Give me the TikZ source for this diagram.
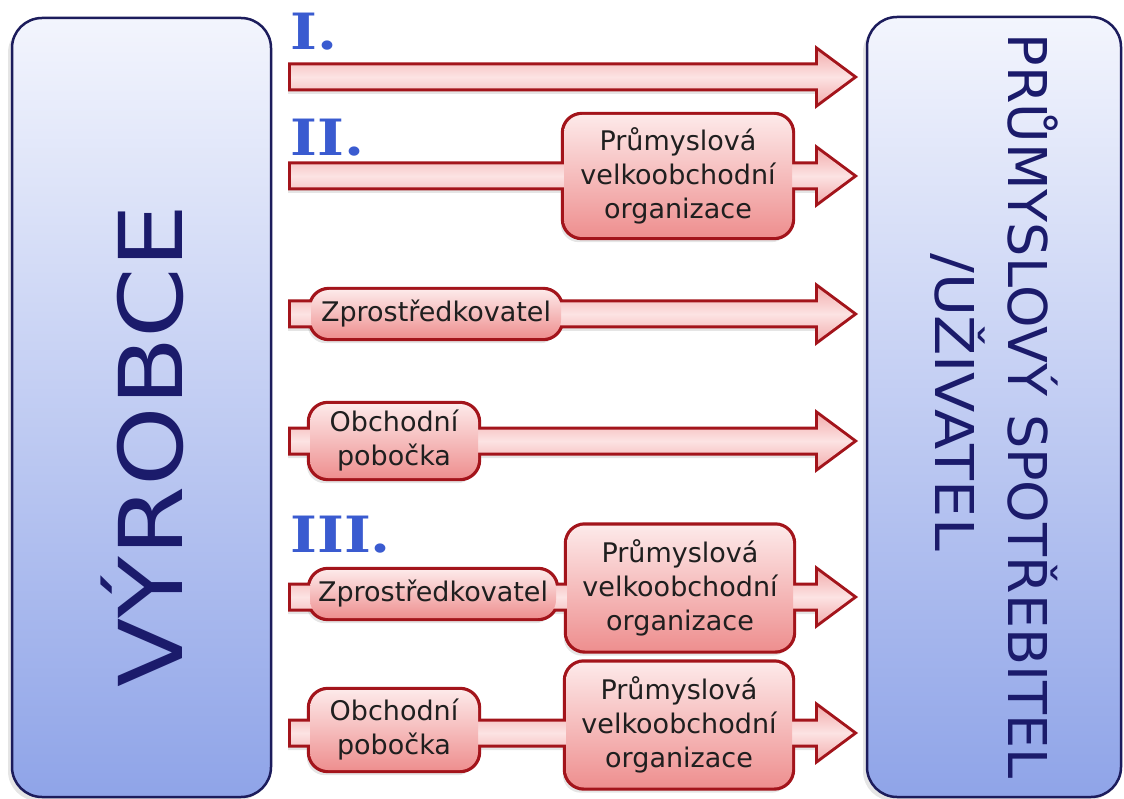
\documentclass[tikz,border=0pt]{standalone}
\usepackage{fontspec}
\usepackage{graphicx}
\setmainfont{DejaVu Sans}
\newfontfamily\numfont{DejaVu Serif}
\pgfdeclarelayer{bg}
\pgfdeclarelayer{shadow}
\pgfdeclarelayer{outl}
\pgfsetlayers{bg,shadow,outl,main}
\definecolor{navy}{HTML}{1B1B6B}
\definecolor{boxedge}{HTML}{1C1C5C}
\definecolor{bluetop}{HTML}{F3F5FD}
\definecolor{bluebot}{HTML}{8FA4E8}
\definecolor{redge}{HTML}{A3141B}
\definecolor{pinktop}{HTML}{FDE9E9}
\definecolor{pinkbot}{HTML}{EE8F8F}
\definecolor{shaftout}{HTML}{F3B0B0}
\definecolor{shaftmid}{HTML}{FCE3E3}
\definecolor{numblue}{HTML}{3A5BD0}
\begin{document}
\begin{tikzpicture}[x=1pt,y=-1pt,
  bigbox/.style={draw=boxedge, line width=2.5pt, rounded corners=30pt, top color=bluetop, bottom color=bluebot},
  bigtext/.style={text=navy, inner sep=0pt},
  lbl/.style={rounded corners=18pt, inner sep=0pt, top color=pinktop, bottom color=pinkbot,
    align=center, text=black!88, font=\fontsize{27}{34}\selectfont},
  lblout/.style={draw=redge, line width=6pt, rounded corners=18pt},
  shade1/.style={fill=black, opacity=0.10},
  shaftfill/.style={top color=shaftout, bottom color=shaftout, middle color=shaftmid},
  num/.style={text=numblue, font=\numfont\bfseries\fontsize{50}{50}\selectfont, inner sep=0pt, anchor=base west}
]
\begin{pgfonlayer}{bg}
\fill[white] (0,0) rectangle (1124,799);
\end{pgfonlayer}
\useasboundingbox (0,0) rectangle (1124,799);

% big boxes
\begin{pgfonlayer}{shadow}
\fill[shade1, rounded corners=30pt] (8,23) rectangle (267,801);
\fill[shade1, rounded corners=30pt] (863,22) rectangle (1117,801);
\end{pgfonlayer}
\path[bigbox] (12,18) rectangle (271,797);
\path[bigbox] (867,17) rectangle (1121,797);
\node[bigtext, rotate=90, anchor=base, font=\fontsize{88}{88}\selectfont] (vyr) at (182,446) {\scalebox{1.15}[1]{VÝROBCE}};
\node[bigtext, rotate=-90, anchor=base, font=\fontsize{53.5}{60}\selectfont] (spot) at (1008,406) {\scalebox{1.01}[1]{PRŮMYSLOVÝ SPOTŘEBITEL}};
\node[bigtext, rotate=-90, anchor=base, font=\fontsize{53.5}{60}\selectfont] (uziv) at (935,402) {\scalebox{1.1}[1]{/UŽIVATEL}};

% roman numerals
\node[num] (n1) at (290,50) {\scalebox{1.15}[1]{I.}};
\node[num] (n2) at (290,156) {\scalebox{1.15}[1]{II.}};
\node[num] (n3) at (290,552) {\scalebox{1.15}[1]{III.}};

% arrow shafts
\foreach \i/\y in {1/77,2/176,3/314,4/441,5/597,6/733} {
  \coordinate (s\i) at (291,\y);
  \coordinate (t\i) at (853,\y);
  \begin{pgfonlayer}{shadow}
    \fill[shade1] (288,\y-7) -- (815,\y-7) -- (815,\y-21) -- (850,\y+5) -- (815,\y+31) -- (815,\y+17) -- (288,\y+17) -- cycle;
  \end{pgfonlayer}
  \begin{pgfonlayer}{outl}
    \draw[redge, line width=6pt, line join=miter]
      (s\i) ++(0,-11.5) -- (818,\y-11.5) -- (818,\y-26) -- (t\i) -- (818,\y+26) -- (818,\y+11.5) -- (291,\y+11.5) -- cycle;
  \end{pgfonlayer}
  \path[shaftfill]
      (s\i) ++(0,-11.5) -- (818,\y-11.5) -- (818,\y-26) -- (t\i) -- (818,\y+26) -- (818,\y+11.5) -- (291,\y+11.5) -- cycle;
}

% label boxes
\node[lbl, minimum width=228pt, minimum height=122pt] (pv2) at (678,176) {Průmyslová\\velkoobchodní\\organizace};
\node[lbl, minimum width=250pt, minimum height=48pt] (z3) at (436,314) {Zprostředkovatel};
\node[lbl, minimum width=168pt, minimum height=74pt] (o4) at (394,441) {Obchodní\\pobočka};
\node[lbl, minimum width=246pt, minimum height=48pt] (z5) at (433,594) {Zprostředkovatel};
\node[lbl, minimum width=226pt, minimum height=125pt] (pv5) at (680,588) {Průmyslová\\velkoobchodní\\organizace};
\node[lbl, minimum width=168pt, minimum height=80pt] (o6) at (394,730) {Obchodní\\pobočka};
\node[lbl, minimum width=226pt, minimum height=125pt] (pv6) at (679,725) {Průmyslová\\velkoobchodní\\organizace};

\foreach \n in {pv2,z3,o4,z5,pv5,o6,pv6} {
  \begin{pgfonlayer}{shadow}
    \fill[shade1, rounded corners=18pt] ([shift={(-3,5)}]\n.south west) rectangle ([shift={(-3,5)}]\n.north east);
  \end{pgfonlayer}
  \begin{pgfonlayer}{outl}
    \draw[lblout] (\n.south west) rectangle (\n.north east);
  \end{pgfonlayer}
}
\end{tikzpicture}
\end{document}
